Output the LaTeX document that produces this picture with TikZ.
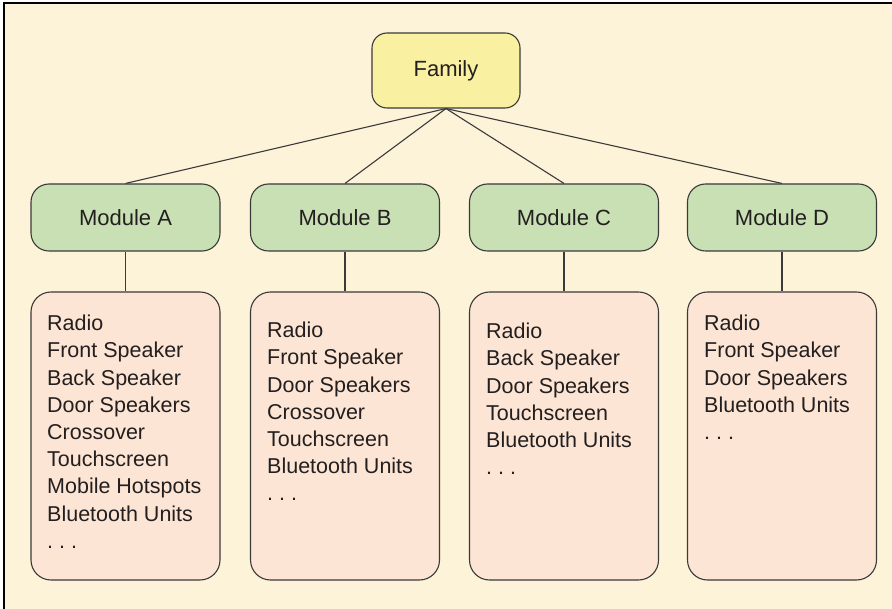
\documentclass[tikz,border=0pt]{standalone}
\usepackage{fontspec}
\setmainfont{Liberation Sans}
\definecolor{bgcream}{HTML}{FDF3D9}
\definecolor{famfill}{HTML}{FAF0A2}
\definecolor{modfill}{HTML}{C8E0B3}
\definecolor{listfill}{HTML}{FCE5D4}
\definecolor{edge}{HTML}{3A3A3A}
\definecolor{txt}{HTML}{231F20}
\newcommand{\mydots}{.\hspace{0.28em}.\hspace{0.28em}.}
\tikzset{
  famstyle/.style={draw=edge, line width=1.1pt, fill=famfill, rounded corners=15pt,
    minimum width=148pt, minimum height=75pt, inner sep=0pt,
    font=\fontsize{22}{26}\selectfont, text=txt},
  modstyle/.style={draw=edge, line width=1.1pt, fill=modfill, rounded corners=18pt,
    minimum width=189pt, minimum height=67pt, inner sep=0pt,
    font=\fontsize{22}{26}\selectfont, text=txt},
  liststyle/.style={draw=edge, line width=1.1pt, fill=listfill, rounded corners=20pt,
    minimum width=189pt, minimum height=288pt, inner sep=0pt},
  listtext/.style={anchor=north west, inner sep=0pt, align=left,
    font=\fontsize{21.5}{27.2}\selectfont, text=txt},
  link/.style={draw=edge, line width=1.1pt}
}
\begin{document}
\begin{tikzpicture}[x=1pt,y=-1pt]
\useasboundingbox (0,0) rectangle (892,609);
\fill[white] (0,0) rectangle (892,609);
\fill[bgcream] (4,3) rectangle (892,609);
\draw[black, line width=1.6pt] (4,609) -- (4,3) -- (892,3);

\node[famstyle] (fam) at (446,70.5) {Family};

\node[modstyle] (ma) at (125.5,217.5) {Module A};
\node[modstyle] (mb) at (345,217.5) {Module B};
\node[modstyle] (mc) at (564,217.5) {Module C};
\node[modstyle] (md) at (782,217.5) {Module D};

\node[liststyle] (la) at (125.5,436) {};
\node[liststyle] (lb) at (345,436) {};
\node[liststyle] (lc) at (564,436) {};
\node[liststyle] (ld) at (782,436) {};

\node[listtext] (ta) at (47,315) {Radio\\Front Speaker\\Back Speaker\\Door Speakers\\Crossover\\Touchscreen\\Mobile Hotspots\\Bluetooth Units\\\mydots};
\node[listtext] (tb) at (267,322) {Radio\\Front Speaker\\Door Speakers\\Crossover\\Touchscreen\\Bluetooth Units\\\mydots};
\node[listtext] (tc) at (486,323) {Radio\\Back Speaker\\Door Speakers\\Touchscreen\\Bluetooth Units\\\mydots};
\node[listtext] (td) at (704,315) {Radio\\Front Speaker\\Door Speakers\\Bluetooth Units\\\mydots};

\foreach \m in {ma,mb,mc,md}{
  \draw[link] (fam.south) -- (\m.north);
}
\draw[link] (ma.south) -- (la.north);
\draw[link] (mb.south) -- (lb.north);
\draw[link] (mc.south) -- (lc.north);
\draw[link] (md.south) -- (ld.north);
\end{tikzpicture}
\end{document}
